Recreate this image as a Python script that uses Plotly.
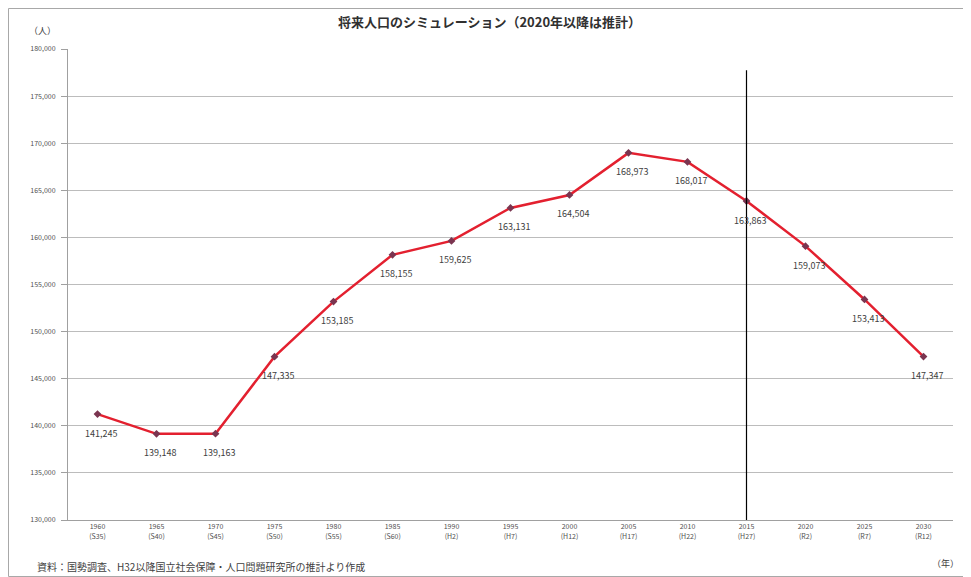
import plotly.graph_objects as go

years = ["1960", "1965", "1970", "1975", "1980", "1985", "1990", "1995",
         "2000", "2005", "2010", "2015", "2020", "2025", "2030"]
eras = ["(S35)", "(S40)", "(S45)", "(S50)", "(S55)", "(S60)", "(H2)", "(H7)",
        "(H12)", "(H17)", "(H22)", "(H27)", "(R2)", "(R7)", "(R12)"]
population = [141245, 139148, 139163, 147335, 153185, 158155, 159625, 163131,
              164504, 168973, 168017, 163863, 159073, 153413, 147347]
divider_year = "2015"

cats = [f"{y}<br>{e}" for y, e in zip(years, eras)]
labels = [f"{v:,}" for v in population]

FONT = "Noto Sans CJK JP"

W, H = 963, 569
ML, MR, MT, MB = 60, 18, 41, 57
PW, PH = W - ML - MR, H - MT - MB

fig = go.Figure()
fig.add_trace(go.Scatter(
    x=cats, y=population, mode="lines+markers",
    line=dict(color="#e3202f", width=2.5),
    marker=dict(symbol="diamond", size=6, color="#7a3550"),
    cliponaxis=False, showlegend=False,
))

for c, v, t in zip(cats, population, labels):
    fig.add_annotation(x=c, y=v, text=t, showarrow=False, yshift=-19, xshift=3,
                       font=dict(size=9, color="#404040", family=FONT))

fig.update_layout(
    width=W, height=H,
    margin=dict(l=ML, r=MR, t=MT, b=MB),
    paper_bgcolor="white", plot_bgcolor="white",
    font=dict(family=FONT, color="#404040"),
    title=dict(text="<b>将来人口のシミュレーション（2020年以降は推計）</b>",
               x=0.5, xanchor="center", y=1 - 14 / H, yanchor="middle",
               font=dict(size=13, color="#303030", family=FONT)),
    xaxis=dict(type="category", range=[-0.5, len(cats) - 0.5],
               showgrid=False, showline=True, linecolor="#a0a0a0", linewidth=1,
               ticks="", tickfont=dict(size=7, color="#505050", family=FONT),
               fixedrange=True),
    yaxis=dict(range=[130000, 180000], dtick=5000, tickformat=",",
               showgrid=True, gridcolor="#bcbcbc", gridwidth=1,
               showline=True, linecolor="#a0a0a0", linewidth=1,
               ticks="outside", ticklen=6, tickcolor="#a0a0a0",
               ticklabelstandoff=4,
               tickfont=dict(size=7, color="#505050", family=FONT),
               zeroline=False),
)

# chart outer border
fig.add_shape(type="rect", xref="paper", yref="paper",
              x0=-(ML - 0.5) / PW, x1=1 + (MR - 3) / PW,
              y0=-(MB - 0.5) / PH, y1=1 + (MT - 0.5) / PH,
              line=dict(color="#a8a8a8", width=1), layer="below")

# divider between actual and projected values
div_idx = years.index(divider_year)
fig.add_shape(type="line", xref="x", yref="paper",
              x0=cats[div_idx], x1=cats[div_idx], y0=0, y1=0.955,
              line=dict(color="#000000", width=1.2))

fig.add_annotation(text="（人）", xref="paper", yref="paper",
                   x=(34 - ML) / PW, y=(PH + MT - 22) / PH,
                   xanchor="center", yanchor="middle",
                   showarrow=False, font=dict(size=9, color="#404040", family=FONT))
fig.add_annotation(text="（年）", xref="paper", yref="paper",
                   x=(937 - ML) / PW, y=-43 / PH,
                   xanchor="center", yanchor="middle", showarrow=False,
                   font=dict(size=9, color="#404040", family=FONT))
fig.add_annotation(text="資料：国勢調査、H32以降国立社会保障・人口問題研究所の推計より作成",
                   xref="paper", yref="paper", x=(27 - ML) / PW, y=-46 / PH,
                   xanchor="left", yanchor="middle", showarrow=False,
                   font=dict(size=10, color="#404040", family=FONT))

fig.write_html("out.html")
